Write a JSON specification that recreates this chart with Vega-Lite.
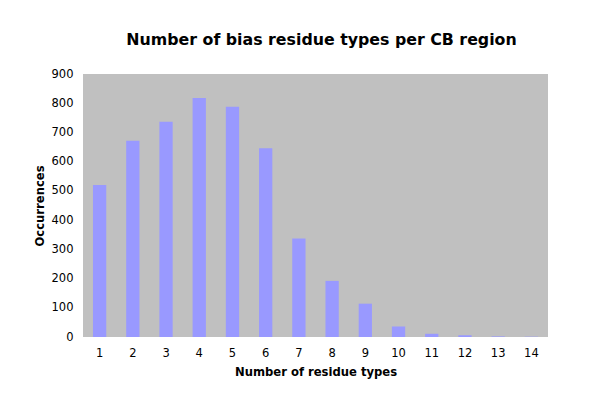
{
  "$schema": "https://vega.github.io/schema/vega-lite/v6.json",
  "autosize": "none",
  "padding": {"left": 83, "top": 74, "right": 52, "bottom": 73},
  "width": 465,
  "height": 263,
  "background": "white",
  "title": {
    "text": "Number of bias residue types per CB region",
    "font": "DejaVu Sans",
    "fontSize": 15.8,
    "fontWeight": "bold",
    "color": "black",
    "offset": 19,
    "dx": 6
  },
  "config": {
    "view": {"fill": "#C0C0C0", "stroke": null},
    "axis": {
      "labelFont": "DejaVu Sans",
      "labelFontSize": 11.5,
      "labelColor": "black",
      "titleFont": "DejaVu Sans",
      "titleFontSize": 11.6,
      "titleFontWeight": "bold",
      "titleColor": "black",
      "grid": false,
      "domain": false,
      "ticks": false
    }
  },
  "data": {
    "values": [
      {"types": 1, "count": 520},
      {"types": 2, "count": 672},
      {"types": 3, "count": 737},
      {"types": 4, "count": 818},
      {"types": 5, "count": 788},
      {"types": 6, "count": 646},
      {"types": 7, "count": 337},
      {"types": 8, "count": 192},
      {"types": 9, "count": 114},
      {"types": 10, "count": 36},
      {"types": 11, "count": 11},
      {"types": 12, "count": 6},
      {"types": 13, "count": 2},
      {"types": 14, "count": 1}
    ]
  },
  "mark": {"type": "bar", "color": "#9999FF"},
  "encoding": {
    "x": {
      "field": "types",
      "type": "ordinal",
      "scale": {"paddingInner": 0.6, "paddingOuter": 0.3},
      "axis": {"title": "Number of residue types", "labelAngle": 0, "labelPadding": 10, "titlePadding": 8}
    },
    "y": {
      "field": "count",
      "type": "quantitative",
      "scale": {"domain": [0, 900], "nice": false},
      "axis": {"title": "Occurrences", "values": [0,100,200,300,400,500,600,700,800,900], "labelPadding": 10, "titlePadding": 6}
    }
  }
}
